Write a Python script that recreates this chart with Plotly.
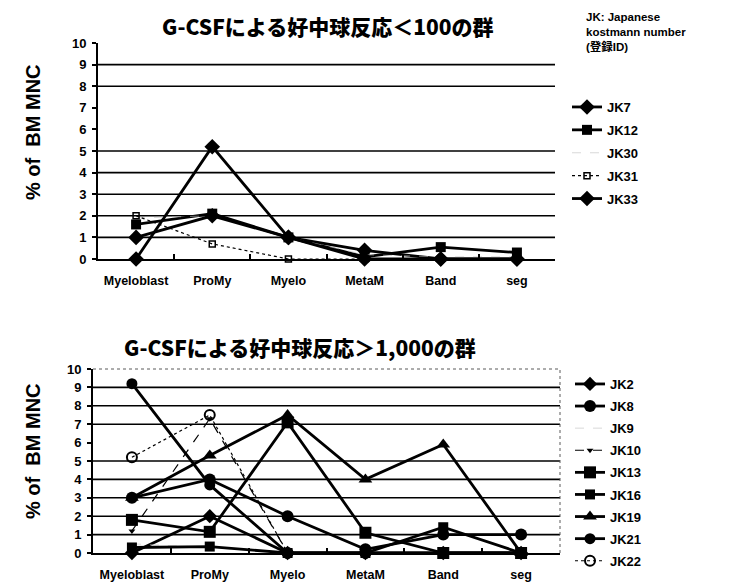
import plotly.graph_objects as go

# ---------------- data ----------------
CATEGORIES = ["Myeloblast", "ProMy", "Myelo", "MetaM", "Band", "seg"]
Y_TICKS = list(range(0, 11))

TOP_TITLE = "G-CSFによる好中球反応＜100の群"
BOTTOM_TITLE = "G-CSFによる好中球反応＞1,000の群"
Y_TITLE = "% of  BM MNC"
NOTE = "JK: Japanese<br>kostmann number<br>(登録ID)"

# group with neutrophil response < 100
TOP_NAMES = ["JK7", "JK12", "JK30", "JK31", "JK33"]
JK7 = [0.0, 5.2, 1.0, 0.4, 0.0, 0.0]
JK12 = [1.6, 2.1, 1.0, 0.1, 0.55, 0.3]
JK30 = [1.9, 2.0, 1.0, 0.2, 0.1, 0.1]
JK31 = [2.0, 0.7, 0.0, 0.0, 0.0, 0.0]
JK33 = [1.0, 2.0, 1.0, 0.0, 0.0, 0.0]

# group with neutrophil response > 1,000
BOTTOM_NAMES = ["JK2", "JK8", "JK9", "JK10", "JK13", "JK16", "JK19", "JK21", "JK22"]
JK2 = [0.0, 2.0, 0.0, 0.0, 0.0, 0.0]
JK8 = [3.0, 4.0, 2.0, 0.2, 1.0, 1.0]
JK9 = [0.5, 0.3, 0.0, 0.0, 0.0, 0.0]
JK10 = [1.2, 7.3, 0.0, 0.0, 0.0, 0.0]
JK13 = [1.8, 1.15, 7.1, 1.1, 0.0, 0.0]
JK16 = [0.3, 0.35, 0.0, 0.0, 1.4, 0.0]
JK19 = [3.0, 5.3, 7.5, 4.0, 5.9, 0.0]
JK21 = [9.2, 3.7, 0.0, 0.0, 0.0, 0.0]
JK22 = [5.2, 7.5, 0.0, 0.0, 0.0, 0.0]

TOP_VALUES = [JK7, JK12, JK30, JK31, JK33]
BOTTOM_VALUES = [JK2, JK8, JK9, JK10, JK13, JK16, JK19, JK21, JK22]

GRID_TOP = [1, 2, 3, 4, 5, 8, 9]
GRID_BOTTOM = [1, 2, 3, 4, 5, 7, 8, 9]

# ---------------- styles ----------------
BLACK = "black"
FAINT = "rgba(190,190,190,0.6)"
SOLID = dict(color=BLACK, width=2.8, dash="solid")
THIN_DOT = dict(color=BLACK, width=1.2, dash="dot")
THIN_DASH = dict(color=BLACK, width=1.2, dash="dash")
FAINT_LINE = dict(color=FAINT, width=1, dash="dash")

TOP_STYLES = [
    (SOLID, dict(symbol="diamond", size=12, color=BLACK)),
    (SOLID, dict(symbol="square", size=10, color=BLACK)),
    (FAINT_LINE, dict(size=1, color="rgba(0,0,0,0)")),
    (THIN_DOT, dict(symbol="square-open", size=6, color=BLACK, line=dict(width=1.5))),
    (SOLID, dict(symbol="diamond", size=12, color=BLACK)),
]
BOTTOM_STYLES = [
    (SOLID, dict(symbol="diamond", size=11, color=BLACK)),
    (SOLID, dict(symbol="circle", size=12, color=BLACK)),
    (FAINT_LINE, dict(size=1, color="rgba(0,0,0,0)")),
    (THIN_DASH, dict(symbol="triangle-down", size=6, color=BLACK)),
    (SOLID, dict(symbol="square", size=12, color=BLACK)),
    (SOLID, dict(symbol="square", size=10, color=BLACK)),
    (SOLID, dict(symbol="triangle-up", size=12, color=BLACK)),
    (SOLID, dict(symbol="circle", size=11, color=BLACK)),
    (THIN_DOT, dict(symbol="circle-open", size=10, color=BLACK, line=dict(width=2))),
]

BOLD = dict(family="Liberation Sans, Arial, sans-serif", color=BLACK, weight="bold")
CJK_BOLD = dict(family="Noto Sans CJK JP, sans-serif", color=BLACK, weight=900)

fig = go.Figure()

for name, vals, (ln, mk) in zip(TOP_NAMES, TOP_VALUES, TOP_STYLES):
    fig.add_trace(go.Scatter(
        x=CATEGORIES, y=vals, name=name, mode="lines+markers",
        line=ln, marker=mk, xaxis="x", yaxis="y", legend="legend",
        legendgroup=name, cliponaxis=False,
    ))

for name, vals, (ln, mk) in zip(BOTTOM_NAMES, BOTTOM_VALUES, BOTTOM_STYLES):
    fig.add_trace(go.Scatter(
        x=CATEGORIES, y=vals, name=name, mode="lines+markers",
        line=ln, marker=mk, xaxis="x2", yaxis="y2", legend="legend2",
        legendgroup=name, cliponaxis=False,
    ))

W, H = 744, 584
PAGE_OFFSET = 8  # the page body margin shifts the figure by this many pixels


def px_x(p):
    return (p - PAGE_OFFSET) / W


def px_y(p):
    return 1 - (p - PAGE_OFFSET) / H


common_x = dict(
    type="category", categoryorder="array", categoryarray=CATEGORIES,
    range=[-0.5, 5.5], showline=True, linecolor=BLACK, linewidth=2,
    ticks="inside", tickson="boundaries", ticklen=5, tickcolor=BLACK, tickwidth=1.5,
    tickfont=dict(size=12.5, **BOLD), showgrid=False, zeroline=False,
    ticklabelstandoff=9, fixedrange=True,
)
common_y = dict(
    range=[0, 10], tickvals=Y_TICKS, showline=True, linecolor=BLACK, linewidth=2,
    ticks="outside", ticklen=4, tickcolor=BLACK, tickwidth=1.5,
    tickfont=dict(size=13, **BOLD), showgrid=False, zeroline=False,
    ticklabelstandoff=3, fixedrange=True,
)

fig.update_layout(
    width=W, height=H,
    margin=dict(l=0, r=0, t=0, b=0, autoexpand=False),
    paper_bgcolor="white", plot_bgcolor="white",
    xaxis=dict(domain=[px_x(98), px_x(555)], anchor="y", **common_x),
    yaxis=dict(domain=[px_y(259), px_y(43)], anchor="x", **common_y),
    xaxis2=dict(domain=[px_x(93), px_x(560)], anchor="y2", **common_x),
    yaxis2=dict(domain=[px_y(553), px_y(369)], anchor="x2", **common_y),
    legend=dict(
        x=px_x(567), y=px_y(92), xanchor="left", yanchor="top",
        font=dict(size=13, **BOLD), tracegroupgap=3, bgcolor="rgba(0,0,0,0)",
        itemclick=False, itemdoubleclick=False,
    ),
    legend2=dict(
        x=px_x(570), y=px_y(369), xanchor="left", yanchor="top",
        font=dict(size=13, **BOLD), tracegroupgap=2.2, bgcolor="rgba(0,0,0,0)",
        itemclick=False, itemdoubleclick=False,
    ),
    showlegend=True,
)

shapes = []
for v in GRID_TOP:
    shapes.append(dict(type="line", xref="x domain", yref="y", x0=0, x1=1, y0=v, y1=v,
                       line=dict(color=BLACK, width=1.6), layer="below"))
for v in GRID_BOTTOM:
    shapes.append(dict(type="line", xref="x2 domain", yref="y2", x0=0, x1=1, y0=v, y1=v,
                       line=dict(color=BLACK, width=1.6), layer="below"))
# faint dotted frame of the lower chart
shapes.append(dict(type="line", xref="x2 domain", yref="y2 domain", x0=0, x1=1, y0=1, y1=1,
                   line=dict(color="rgb(90,90,90)", width=1, dash="dot"), layer="below"))
shapes.append(dict(type="line", xref="x2 domain", yref="y2 domain", x0=1, x1=1, y0=0, y1=1,
                   line=dict(color="rgb(90,90,90)", width=1, dash="dot"), layer="below"))
fig.update_layout(shapes=shapes)

annotations = [
    dict(text=TOP_TITLE, x=px_x(328), y=px_y(9), xref="paper", yref="paper",
         xanchor="center", yanchor="top", showarrow=False,
         font=dict(size=21, **CJK_BOLD)),
    dict(text=BOTTOM_TITLE, x=px_x(300), y=px_y(347), xref="paper", yref="paper",
         xanchor="center", yanchor="middle", showarrow=False,
         font=dict(size=21, **CJK_BOLD)),
    dict(text=Y_TITLE, x=px_x(33), y=px_y(132), xref="paper", yref="paper",
         xanchor="center", yanchor="middle", showarrow=False, textangle=-90,
         font=dict(size=20, **BOLD)),
    dict(text=Y_TITLE, x=px_x(33), y=px_y(451), xref="paper", yref="paper",
         xanchor="center", yanchor="middle", showarrow=False, textangle=-90,
         font=dict(size=20, **BOLD)),
    dict(text=NOTE, x=px_x(584), y=px_y(9), xref="paper", yref="paper",
         xanchor="left", yanchor="top", align="left", showarrow=False,
         font=dict(size=11.5, family="Liberation Sans, Noto Sans CJK JP, sans-serif",
                   color=BLACK, weight="bold")),
]
fig.update_layout(annotations=annotations)

fig.write_html("out.html")
